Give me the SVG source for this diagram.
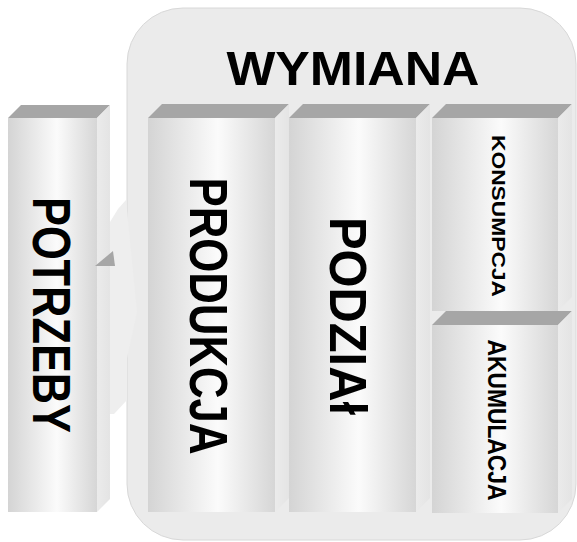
<svg xmlns="http://www.w3.org/2000/svg" width="577" height="542" viewBox="0 0 577 542">
  <defs>
    <linearGradient id="front" x1="0" y1="0" x2="1" y2="0">
      <stop offset="0" stop-color="#d4d4d4"/>
      <stop offset="0.55" stop-color="#fbfbfb"/>
      <stop offset="1" stop-color="#d6d6d6"/>
    </linearGradient>
    <linearGradient id="side" x1="0" y1="0" x2="1" y2="0">
      <stop offset="0" stop-color="#ebebeb"/>
      <stop offset="1" stop-color="#e4e4e4"/>
    </linearGradient>
  </defs>
  <style>
    .front { fill: url(#front); }
    .top { fill: #a6a6a6; }
    .side { fill: url(#side); }
    .lbl { font-family: "Liberation Sans", Arial, sans-serif; font-weight: bold; fill: #000; text-anchor: middle; }
  </style>
  <rect width="577" height="542" fill="#ffffff"/>

  <g id="potrzeby">
    <polygon class="top" points="8,118 21,105 110,105 97,118"/>
    <polygon class="side" points="97,118 110,105 110,499 97,512"/>
    <rect class="front" x="8" y="118" width="89" height="394"/>
    <text class="lbl" font-size="53" textLength="236" lengthAdjust="spacingAndGlyphs" transform="translate(33,315) rotate(90)">POTRZEBY</text>
  </g>

  <g id="wymiana">
    <rect x="127" y="8" width="449" height="532" rx="56" ry="56" fill="#ebebeb" stroke="#d8d8d8" stroke-width="1"/>
    <text class="lbl" x="353" y="85" font-size="49" textLength="253" lengthAdjust="spacingAndGlyphs">WYMIANA</text>
  </g>

  <g id="connectors">
    <g id="arrow">
      <polygon points="110,222 118,209 126,200 137,312 127,358 127,400 114,414 110,414" fill="#eeeeee"/>
      <polygon points="95,266 113,251 115,266" fill="#a6a6a6"/>
    </g>
  </g>

  <g id="produkcja">
    <polygon class="top" points="148,118 162,104 289,104 275,118"/>
    <polygon class="side" points="275,118 289,104 289,498 275,512"/>
    <rect class="front" x="148" y="118" width="127" height="394"/>
    <text class="lbl" font-size="53" textLength="277" lengthAdjust="spacingAndGlyphs" transform="translate(190,316) rotate(90)">PRODUKCJA</text>
  </g>

  <g id="podzial">
    <polygon class="top" points="289,118 303,104 430,104 416,118"/>
    <polygon class="side" points="416,118 430,104 430,498 416,512"/>
    <rect class="front" x="289" y="118" width="127" height="394"/>
    <text class="lbl" font-size="52" textLength="198" lengthAdjust="spacingAndGlyphs" transform="translate(330,316) rotate(90)">PODZIAł</text>
  </g>

  <g id="konsumpcja">
    <polygon class="top" points="432,118 446,104 572,104 558,118"/>
    <polygon class="side" points="558,118 572,104 572,297 558,311"/>
    <rect class="front" x="432" y="118" width="126" height="193"/>
    <text class="lbl" font-size="18" textLength="162" lengthAdjust="spacingAndGlyphs" transform="translate(492,216) rotate(90)">KONSUMPCJA</text>
  </g>

  <g id="akumulacja">
    <polygon class="top" points="432,325 446,311 572,311 558,325"/>
    <polygon class="side" points="558,325 572,311 572,499 558,513"/>
    <rect class="front" x="432" y="325" width="126" height="188"/>
    <text class="lbl" font-size="26" textLength="161" lengthAdjust="spacingAndGlyphs" transform="translate(488,420) rotate(90)">AKUMULACJA</text>
  </g>
</svg>
